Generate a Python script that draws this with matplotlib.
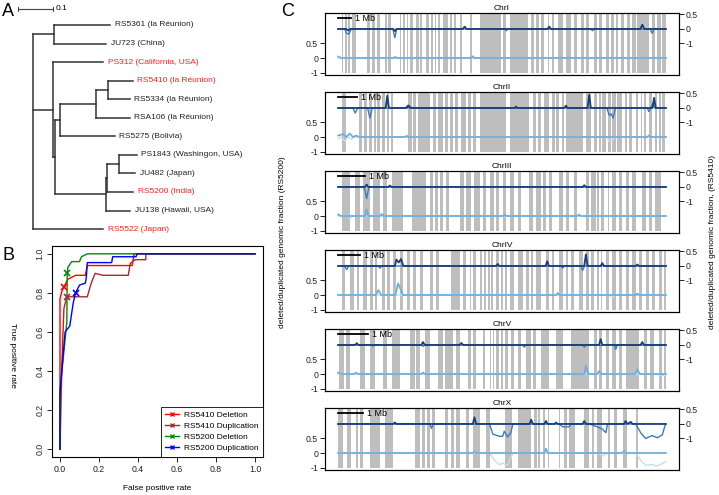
import numpy as np
import matplotlib
matplotlib.use("Agg")
import matplotlib.pyplot as plt
from matplotlib.lines import Line2D

W, H = 719, 495
plt.rcParams['font.family'] = ['Liberation Sans', 'DejaVu Sans']
plt.rcParams['axes.linewidth'] = 0.8

# ---------------- panel A: tree (name or children, branch length) ----------------
clade_5410 = ([("RS5410 (la Réunion)", 0.071), ("RS5334 (la Réunion)", 0.063)], 0.034)
clade_a106 = ([clade_5410, ("RSA106 (la Réunion)", 0.097)], 0.103)
clade_5275 = ([clade_a106, ("RS5275 (Bolivia)", 0.157)], 0.014)
clade_1843 = ([("PS1843 (Washingon, USA)", 0.051), ("JU482 (Japan)", 0.046)], 0.034)
clade_5200 = ([clade_1843, ("RS5200 (India)", 0.074)], 0.003)
clade_138 = ([clade_5200, ("JU138 (Hawaii, USA)", 0.069)], 0.146)
clade_inner = ([clade_5275, clade_138], 0.006)
clade_312 = ([("PS312 (California, USA)", 0.143), clade_inner], 0.057)
clade_5361 = ([("RS5361 (la Réunion)", 0.160), ("JU723 (China)", 0.149)], 0.060)
tree = [clade_5361, clade_312, ("RS5522 (Japan)", 0.200)]
red_leaves = ["PS312 (California, USA)", "RS5410 (la Réunion)",
              "RS5200 (India)", "RS5522 (Japan)"]
scale_len = 0.1

# ---------------- panel B: ROC curves ----------------
roc_labels = ["RS5410 Deletion", "RS5410 Duplication", "RS5200 Deletion", "RS5200 Duplication"]
roc_colors = ["#ff0000", "#a52a2a", "#008b00", "#0000ff"]
roc_fpr = [
    [0, 0, 0.005, 0.01, 0.02, 0.03, 0.04, 0.06, 0.08, 0.13, 0.14, 0.37, 0.38, 1.0],
    [0, 0.01, 0.02, 0.035, 0.14, 0.16, 0.18, 0.22, 0.35, 0.36, 0.385, 0.44, 0.44, 1.0],
    [0, 0, 0.03, 0.035, 0.037, 0.04, 0.06, 0.10, 0.11, 0.14, 1.0],
    [0, 0, 0.026, 0.05, 0.068, 0.08, 0.10, 0.13, 0.135, 0.14, 0.265, 0.27, 0.39, 0.395, 1.0],
]
roc_tpr = [
    [0, 0.77, 0.79, 0.81, 0.83, 0.85, 0.87, 0.88, 0.89, 0.89, 0.94, 0.94, 1.0, 1.0],
    [0, 0.45, 0.72, 0.78, 0.78, 0.85, 0.90, 0.89, 0.89, 0.95, 0.97, 0.97, 1.0, 1.0],
    [0, 0.30, 0.60, 0.65, 0.90, 0.93, 0.96, 0.96, 0.985, 1.0, 1.0],
    [0, 0.29, 0.60, 0.63, 0.75, 0.80, 0.84, 0.85, 0.88, 0.955, 0.955, 0.985, 0.985, 1.0, 1.0],
]
marker_fpr = [0.02, 0.035, 0.037, 0.08]
marker_tpr = [0.83, 0.78, 0.90, 0.80]

# ---------------- panel C: chromosomes ----------------
chrom_names = ["ChrI", "ChrII", "ChrIII", "ChrIV", "ChrV", "ChrX"]
chrom_len_mb = [25.0, 17.0, 12.0, 15.0, 11.0, 13.0]

# grey regions, (start, end) in percent of chromosome length
chrI_grey = [(1.1, 1.6), (2.1, 2.6), (3.1, 3.6), (4.2, 4.7), (5.0, 5.5), (8.7, 9.7), (10.2, 11.2),
             (11.8, 12.8), (14.3, 14.8), (15.3, 16.0), (18.8, 19.3), (19.9, 20.4), (20.9, 21.4),
             (21.9, 22.7), (23.9, 24.7), (25.1, 25.7), (26.9, 27.6), (28.2, 28.8), (29.5, 30.0),
             (30.5, 31.2), (32.0, 33.5), (34.0, 34.8), (35.3, 36.1), (37.1, 37.9), (40.1, 40.7),
             (43.2, 49.7), (50.2, 51.3), (52.3, 57.8), (58.9, 59.9), (60.4, 61.2), (61.9, 62.9),
             (63.9, 64.4), (65.2, 66.0), (67.0, 68.5), (69.5, 71.0), (72.0, 73.0), (74.1, 75.1),
             (75.6, 76.6), (78.1, 79.1), (79.6, 80.6), (81.6, 82.7), (83.2, 84.2), (84.7, 85.5),
             (86.2, 87.2), (88.2, 89.2), (89.8, 90.8), (91.3, 94.8), (95.8, 96.8), (97.4, 98.4),
             (98.9, 99.9)]
chrII_grey = [(1.1, 2.4), (6.5, 7.2), (7.9, 8.7), (9.5, 10.2), (10.9, 11.5), (12.0, 12.8),
              (13.3, 14.3), (14.8, 15.6), (16.0, 16.8), (21.4, 22.4), (22.9, 23.9), (24.4, 28.0),
              (29.0, 30.0), (30.5, 32.0), (32.5, 33.5), (34.0, 35.1), (35.6, 36.6), (37.6, 38.9),
              (39.6, 40.6), (41.1, 42.1), (43.2, 51.3), (52.3, 58.3), (59.4, 60.4), (60.9, 61.9),
              (62.9, 64.4), (65.4, 66.3), (66.5, 67.5), (68.3, 69.0), (69.5, 74.6), (75.6, 76.4),
              (76.6, 77.1), (78.1, 79.1), (79.6, 80.1), (80.6, 81.6), (82.2, 83.2), (83.7, 84.7),
              (85.2, 86.7), (87.5, 88.2), (88.7, 89.8), (90.8, 91.6), (92.3, 92.8), (93.3, 93.8),
              (94.8, 95.8), (96.8, 97.4), (97.9, 98.4), (98.9, 99.7)]
chrIII_grey = [(1.1, 3.6), (5.2, 6.7), (7.7, 9.7), (10.7, 12.8), (13.8, 15.0), (16.3, 19.9),
               (22.4, 26.9), (28.0, 29.0), (29.5, 30.5), (31.0, 32.0), (33.0, 33.7), (37.1, 38.3),
               (39.1, 40.6), (41.6, 43.2), (44.2, 45.2), (46.2, 47.7), (48.2, 49.2), (50.2, 51.3),
               (52.3, 53.8), (54.8, 55.8), (58.3, 59.4), (60.4, 61.9), (62.4, 63.4), (64.4, 65.4),
               (67.5, 68.5), (69.5, 70.5), (72.0, 73.0), (75.6, 76.6), (77.1, 78.6), (79.1, 79.6),
               (80.1, 81.1), (82.2, 82.7), (83.7, 84.7), (85.7, 86.7), (87.7, 88.7), (89.8, 90.8),
               (92.8, 93.8), (94.8, 95.8), (96.8, 98.4)]
chrIV_grey = [(1.1, 2.1), (3.6, 4.7), (5.7, 6.5), (7.7, 8.7), (9.7, 10.7), (11.2, 12.0),
              (13.3, 14.3), (14.8, 15.8), (16.8, 17.6), (18.8, 19.9), (20.9, 21.9), (22.9, 23.9),
              (24.9, 25.9), (28.0, 29.0), (30.0, 30.8), (34.5, 37.1), (38.1, 39.1), (40.1, 40.6),
              (41.3, 42.1), (43.2, 44.0), (44.4, 45.2), (45.7, 46.2), (46.7, 47.4), (48.2, 49.0),
              (49.7, 50.2), (50.8, 51.5), (52.3, 53.8), (54.8, 56.3), (57.3, 58.1), (58.9, 59.4),
              (60.4, 61.9), (63.4, 64.4), (65.4, 66.0), (67.5, 68.5), (69.5, 70.0), (71.0, 72.0),
              (73.5, 74.6), (75.6, 76.6), (77.1, 78.1), (79.1, 79.6), (80.1, 80.6), (81.6, 82.7),
              (83.7, 84.7), (85.7, 86.5), (87.7, 88.7), (89.8, 90.8), (91.8, 92.8), (93.8, 94.8),
              (95.8, 96.8), (97.9, 98.9), (99.4, 99.9)]
chrV_grey = [(0.4, 1.8), (2.4, 3.6), (6.7, 8.2), (9.7, 11.2), (13.8, 14.8), (16.3, 18.8),
             (21.9, 23.4), (23.9, 24.9), (26.4, 28.0), (30.5, 32.0), (32.5, 35.1), (36.1, 37.1),
             (39.6, 40.6), (41.1, 42.1), (44.2, 44.7), (46.2, 46.7), (47.2, 47.7), (48.2, 49.2),
             (49.7, 50.2), (50.8, 51.8), (52.8, 53.8), (54.8, 55.8), (57.3, 58.9), (59.4, 60.4),
             (61.9, 64.4), (66.5, 68.5), (71.0, 76.6), (78.1, 79.1), (79.6, 80.6), (81.6, 82.7),
             (83.7, 84.7), (85.7, 86.7), (87.7, 91.8), (93.3, 94.3), (95.3, 96.3), (97.9, 98.9),
             (99.4, 99.9)]
chrX_grey = [(0.1, 1.4), (2.6, 4.0), (5.5, 6.2), (6.7, 7.7), (9.7, 12.8), (14.3, 16.6),
             (23.4, 24.9), (25.7, 26.5), (27.1, 28.0), (28.5, 29.5), (32.5, 33.5), (34.5, 35.3),
             (36.1, 37.1), (39.1, 39.8), (41.3, 43.2), (45.2, 46.2), (50.8, 53.1), (54.8, 58.9),
             (59.9, 60.6), (61.1, 61.7), (62.4, 63.2), (63.9, 64.4), (67.3, 67.8), (69.0, 69.7),
             (70.5, 72.3), (75.1, 76.6), (77.4, 78.1), (79.1, 80.6), (82.2, 82.9), (84.2, 85.2),
             (86.9, 88.2), (90.8, 91.6)]

# traces, (percent of chromosome, genomic fraction); top = RS5410, bottom = RS5200
chrI_top_dark = [(0, 0), (2.5, 0), (3.1, -0.1), (3.7, 0), (16.8, 0), (17.3, -0.15), (17.8, 0),
                 (38.0, 0), (38.6, 0.08), (39.2, 0), (63.9, 0), (64.4, 0.08), (64.9, 0),
                 (92.2, 0), (92.8, 0.15), (93.4, 0), (100, 0)]
chrI_top_med = [(0, 0), (2.0, 0), (2.6, -0.3), (3.3, -0.35), (4.0, 0), (16.7, 0), (17.3, -0.6),
                (17.9, 0), (50.8, 0), (51.3, -0.12), (51.8, 0), (77.1, 0), (77.6, -0.12),
                (78.1, 0), (95.2, 0), (95.8, -0.3), (96.4, 0), (100, 0)]
chrI_bot_light = [(0, 0.05), (1, 0), (17.0, 0), (17.4, 0.04), (17.8, 0), (40.6, 0), (41.1, 0.06),
                  (41.6, 0), (100, 0)]
chrI_bot_pale = [(0, 0), (2.5, 0), (3.0, -0.08), (3.5, 0), (100, 0)]

chrII_top_dark = [(0, 0), (14.5, 0), (15.0, 0.42), (15.5, 0), (21, 0), (21.4, 0.08), (21.9, 0),
                  (54, 0), (54.3, 0.05), (54.7, 0), (69, 0), (69.5, 0.08), (70, 0), (76.1, 0),
                  (76.6, 0.45), (77.1, 0), (95.9, 0), (96.4, 0.35), (96.9, 0), (100, 0)]
chrII_top_med = [(0, 0), (4.5, 0), (5.2, -0.35), (6.0, 0), (9.0, 0), (9.7, -0.7), (10.4, 0),
                 (20.5, 0), (21.4, 0.1), (22.5, 0), (82.0, 0), (82.7, -0.5), (83.3, -0.4),
                 (83.9, -0.7), (84.6, 0), (94.3, 0), (94.8, -0.25), (95.4, 0), (96, 0.15),
                 (96.6, 0), (100, 0)]
chrII_bot_light = [(0, 0.05), (1.5, 0.1), (2.5, 0), (3.5, 0.12), (4.5, 0), (5.5, 0.05), (6.5, 0),
                   (20.5, 0), (20.9, 0.04), (21.4, 0), (94.3, 0), (94.8, 0.05), (95.3, 0), (100, 0)]
chrII_bot_pale = [(0, -0.1), (1, 0), (2, -0.3), (3, 0), (4, -0.15), (5, 0), (82, 0),
                  (82.7, -0.3), (83.7, -0.2), (84.5, 0), (100, 0)]

chrIII_top_dark = [(0, 0), (8.2, 0), (8.7, 0.08), (9.2, 0), (15.3, 0), (15.8, 0.05), (16.3, 0),
                   (74.6, 0), (75.1, 0.06), (75.6, 0), (100, 0)]
chrIII_top_med = [(0, 0), (8.0, 0), (8.7, -0.8), (9.4, 0), (100, 0)]
chrIII_bot_light = [(0, 0.05), (1, 0), (8.2, 0), (8.7, 0.23), (9.2, 0), (12.8, 0), (13.3, 0.07),
                    (13.8, 0), (50.3, 0), (50.8, 0.05), (51.3, 0), (73, 0), (73.5, 0.05),
                    (74, 0), (100, 0)]
chrIII_bot_pale = [(0, 0), (3.0, 0), (3.6, -0.2), (4.2, 0), (100, 0)]

chrIV_top_dark = [(0, 0), (17.3, 0), (17.8, 0.22), (18.5, 0.12), (19.2, 0.24), (19.9, 0),
                  (48.2, 0), (48.7, 0.07), (49.2, 0), (63.3, 0), (63.8, 0.16), (64.3, 0),
                  (75.1, 0), (75.6, 0.4), (76.1, 0), (80.1, 0), (80.6, 0.1), (81.1, 0),
                  (90.8, 0), (91.3, 0.05), (91.8, 0), (100, 0)]
chrIV_top_med = [(0, 0), (2.0, 0), (2.6, -0.25), (3.2, 0), (12.3, 0), (12.8, -0.15), (13.3, 0),
                 (68, 0), (68.5, -0.15), (69, 0), (74.0, 0), (74.6, -0.3), (75.2, 0), (100, 0)]
chrIV_bot_light = [(0, 0), (11.5, 0), (12.3, 0.17), (13.1, 0), (17.5, 0), (18.3, 0.4),
                   (19.8, 0), (66.5, 0), (67, 0.07), (67.5, 0), (90.8, 0), (91.3, 0.05),
                   (91.8, 0), (100, 0)]
chrIV_bot_pale = [(0, 0), (83.0, 0), (83.7, -0.2), (84.4, 0), (100, 0)]

chrV_top_dark = [(0, 0), (5.2, 0), (5.7, 0.06), (6.2, 0), (25.4, 0), (25.9, 0.1), (26.4, 0),
                 (37.1, 0), (37.6, 0.07), (38.1, 0), (79.6, 0), (80.1, 0.2), (80.6, 0),
                 (92.3, 0), (92.8, 0.1), (93.3, 0), (100, 0)]
chrV_top_med = [(0, 0), (10.2, 0), (10.7, -0.08), (11.2, 0), (25.4, 0), (25.9, -0.1), (26.4, 0),
                (56.3, 0), (56.8, -0.15), (57.3, 0), (74.6, 0), (75.1, -0.15), (75.6, 0),
                (79.6, 0), (80.1, -0.05), (80.6, 0), (84.2, 0), (84.7, -0.3), (85.2, 0), (100, 0)]
chrV_bot_light = [(0, 0.05), (1, 0), (5.0, 0), (5.5, 0.05), (6.0, 0), (25.4, 0), (25.9, 0.05),
                  (26.4, 0), (75.1, 0), (75.6, 0.28), (76.3, 0), (79.1, 0), (79.6, 0.1),
                  (80.3, 0), (90.5, 0), (91.3, 0.15), (92.1, 0), (100, 0)]
chrV_bot_pale = [(0, 0), (96.5, 0), (98.5, -0.08), (100, -0.1)]

chrX_top_dark = [(0, 0), (16.8, 0), (17.3, 0.05), (17.8, 0), (41.1, 0), (41.6, 0.23), (42.1, 0),
                 (58.4, 0), (58.9, 0.15), (59.4, 0), (62.9, 0), (63.4, 0.1), (63.9, 0), (66, 0),
                 (66.5, 0.05), (67, 0), (74.6, 0), (75.1, 0.1), (75.6, 0), (87.2, 0),
                 (87.7, 0.1), (88.2, 0), (89.3, 0.07), (89.8, 0), (100, 0)]
chrX_top_med = [(0, 0), (28.0, 0), (28.5, -0.3), (29.0, 0), (46.2, 0), (47.2, -0.7),
                (49.2, -0.85), (50.2, -0.85), (50.7, -0.5), (51.7, -0.9), (52.7, -0.6),
                (53.3, 0), (67.5, 0), (68.5, -0.2), (70.5, -0.2), (71.0, 0), (76.6, 0),
                (79.1, -0.2), (80.6, -0.35), (81.7, -0.6), (82.2, 0), (90.8, 0), (92.3, -0.6),
                (93.8, -1.0), (95.8, -0.8), (97.4, -0.95), (98.9, -0.75), (99.9, 0)]
chrX_bot_light = [(0, 0), (41.1, 0), (41.6, 0.05), (42.1, 0), (62.9, 0), (63.4, 0.15),
                  (63.9, 0), (86.7, 0), (87.2, 0.07), (87.7, 0), (100, 0)]
chrX_bot_pale = [(0, 0), (46.2, 0), (47.7, -0.5), (49.2, -0.8), (50.2, -0.7), (51.7, -0.85),
                 (53.3, 0), (79, 0), (81, -0.2), (82, 0), (90.8, 0), (92.3, -0.5),
                 (93.8, -0.85), (95.8, -0.8), (97.4, -0.9), (99.9, -0.6)]

chrom_grey = [chrI_grey, chrII_grey, chrIII_grey, chrIV_grey, chrV_grey, chrX_grey]
chrom_traces = [
    (chrI_top_med, chrI_top_dark, chrI_bot_pale, chrI_bot_light),
    (chrII_top_med, chrII_top_dark, chrII_bot_pale, chrII_bot_light),
    (chrIII_top_med, chrIII_top_dark, chrIII_bot_pale, chrIII_bot_light),
    (chrIV_top_med, chrIV_top_dark, chrIV_bot_pale, chrIV_bot_light),
    (chrV_top_med, chrV_top_dark, chrV_bot_pale, chrV_bot_light),
    (chrX_top_med, chrX_top_dark, chrX_bot_pale, chrX_bot_light),
]
trace_colors = ["#3a7cc0", "#173d7a", "#c6dcf0", "#6fb0dc"]
trace_widths = [1.0, 1.3, 1.0, 1.3]


def rect(l, t, w, h):
    return [l / W, 1 - (t + h) / H, w / W, h / H]


def disp(v):
    # positive fractions are drawn at double scale
    v = np.asarray(v, dtype=float)
    return np.where(v > 0, 2 * v, v)


fig = plt.figure(figsize=(W / 100, H / 100), dpi=100)

# ---------------- A ----------------
u = 0.1 / 35.0
axA = fig.add_axes(rect(0, 0, 262, 245))
axA.set_xlim(-33 * u, 229 * u)
axA.set_ylim((245 - 25) / 18.55, -25 / 18.55)
axA.axis("off")
tree_kw = dict(color="#333333", lw=1.1, solid_capstyle="projecting")
counter = [0]


def draw(node, x0):
    what, bl = node
    x = x0 + bl
    if isinstance(what, str):
        y = counter[0]
        counter[0] += 1
        axA.plot([x0, x], [y, y], **tree_kw)
        axA.text(x + 4.5 * u, y, what, fontsize=6, va="center", ha="left",
                 color="#ff2020" if what in red_leaves else "#222222")
        return y
    ys = [draw(c, x) for c in what]
    y = (ys[0] + ys[-1]) / 2
    axA.plot([x, x], [ys[0], ys[-1]], **tree_kw)
    if bl > 0:
        axA.plot([x0, x], [y, y], **tree_kw)
    return y


draw((tree, 0.0), 0.0)
yb = (9 - 25) / 18.55
xb0 = -15 * u
axA.plot([xb0, xb0 + scale_len], [yb, yb], color="#444444", lw=0.8)
for xe in (xb0, xb0 + scale_len):
    axA.plot([xe, xe], [yb - 0.12, yb + 0.12], color="#444444", lw=0.8)
axA.text(xb0 + scale_len + 3 * u, yb, "0.1", fontsize=6, va="center")

# ---------------- B ----------------
axB = fig.add_axes(rect(52.2, 246, 210.6, 211))
for fx, ty, c in zip(roc_fpr, roc_tpr, roc_colors):
    axB.plot(fx, ty, color=c, lw=1.0)
for mx, my, c in zip(marker_fpr, marker_tpr, roc_colors):
    axB.plot([mx], [my], marker="x", color=c, ms=5, mew=1.2)
axB.set_xlim(-0.04, 1.04)
axB.set_ylim(-0.04, 1.04)
ticks = [0, 0.2, 0.4, 0.6, 0.8, 1.0]
axB.set_xticks(ticks)
axB.set_xticklabels(["%.1f" % t for t in ticks])
axB.set_yticks(ticks)
axB.set_yticklabels(["%.1f" % t for t in ticks], rotation=90, va="center")
axB.tick_params(labelsize=6.3, length=3.5, width=0.7, pad=2, colors="#222222")
handles = [Line2D([0], [0], color=c, lw=1.0, marker="x", ms=3.5, mew=1.0) for c in roc_colors]
leg = axB.legend(handles, roc_labels, loc="lower right", fontsize=6, fancybox=False,
                 edgecolor="black", framealpha=1, borderaxespad=0, handlelength=1.6,
                 labelspacing=0.38, borderpad=0.55, handletextpad=0.6)
leg.get_frame().set_linewidth(0.6)
fig.text(157 / W, 1 - 488 / H, "False positive rate", fontsize=6, ha="center", va="center")
fig.text(12 / W, 1 - 355 / H, "True positive rate", fontsize=6, ha="center", va="center",
         rotation=270)

# ---------------- C ----------------
for i, name in enumerate(chrom_names):
    L = chrom_len_mb[i]
    ax = fig.add_axes(rect(325, 13 + 79 * i, 354, 62))
    starts = [s / 100 * L for s, e in chrom_grey[i]]
    widths = [(e - s) / 100 * L for s, e in chrom_grey[i]]
    ax.bar(starts, 4.0, width=widths, bottom=-1.0, align="edge", color="#bebebe", linewidth=0)
    for j, pts in enumerate(chrom_traces[i]):
        px = np.array([p for p, v in pts]) / 100 * L
        py = disp([v for p, v in pts]) + (2 if j < 2 else 0)
        ax.plot(px, py, color=trace_colors[j], lw=trace_widths[j], solid_joinstyle="round")
    ax.plot([0, 1.0], [2.75, 2.75], color="black", lw=1.3)
    ax.text(1.0 + 0.012 * L, 2.75, "1 Mb", fontsize=6.5, va="center", ha="left")
    ax.set_xlim(-0.04 * L, 1.04 * L)
    ax.set_ylim(-1.17, 3.1)
    ax.set_xticks([])
    ax.set_yticks([-1, 0, 1])
    ax.set_yticklabels(["-1", "0", "0.5"])
    ax.tick_params(labelsize=6.3, length=3.5, width=0.7, pad=1.5, colors="#222222")
    ax.set_title(name, fontsize=6, pad=2.5)
    ax2 = ax.twinx()
    ax2.set_ylim(-1.17, 3.1)
    ax2.set_yticks([1, 2, 3])
    ax2.set_yticklabels(["-1", "0", "0.5"])
    ax2.tick_params(labelsize=6.3, length=3.5, width=0.7, pad=1.5, colors="#222222")

fig.text(283 / W, 1 - 242 / H, "deleted/duplicated genomic fraction (RS5200)", fontsize=6,
         rotation=90, ha="center", va="center")
fig.text(712 / W, 1 - 242 / H, "deleted/duplicated genomic fraction, (RS5410)", fontsize=6,
         rotation=90, ha="center", va="center")

# panel letters
fig.text(8 / W, 1 - 11 / H, "A", fontsize=13, ha="center", va="center")
fig.text(8 / W, 1 - 255 / H, "B", fontsize=13, ha="center", va="center")
fig.text(288 / W, 1 - 11 / H, "C", fontsize=13, ha="center", va="center")

fig.savefig("out.png", dpi=100)
